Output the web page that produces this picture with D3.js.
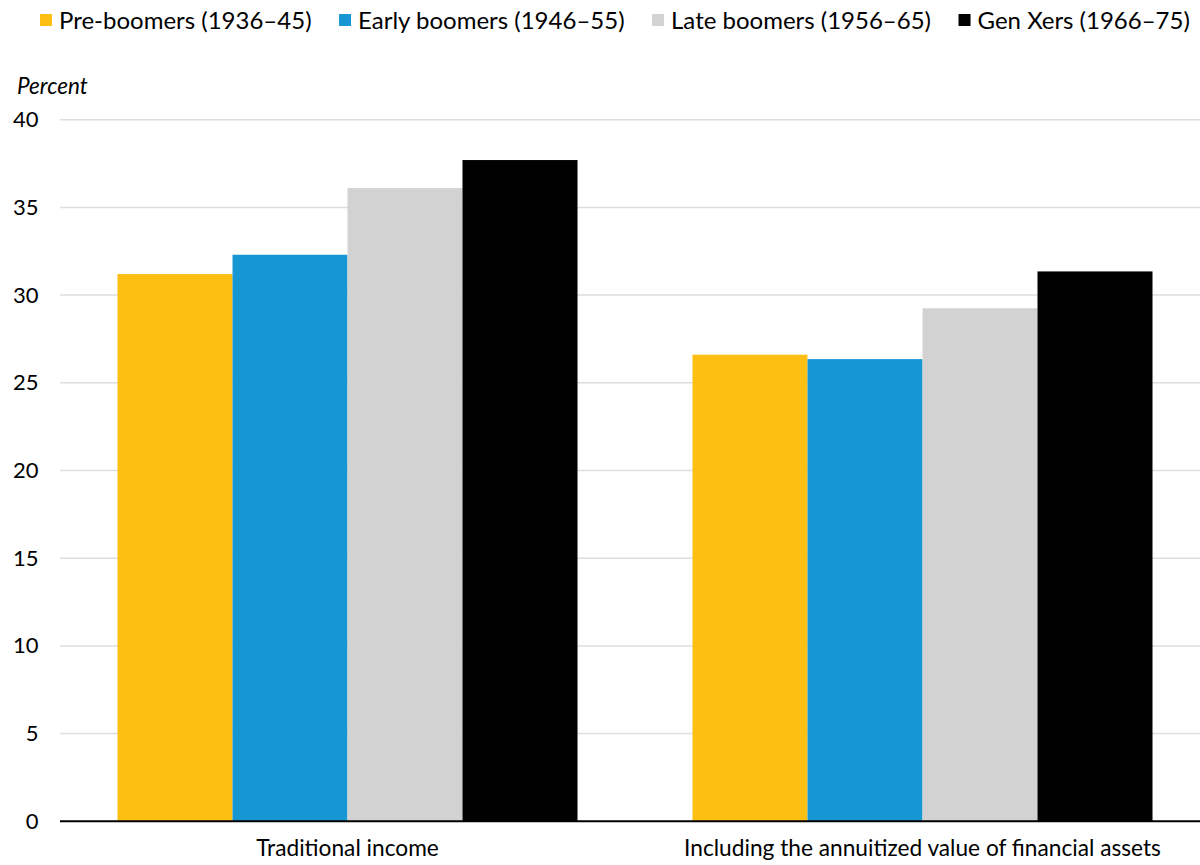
<!DOCTYPE html>
<html>
<head>
<meta charset="utf-8">
<script src="https://cdn.jsdelivr.net/npm/d3@7"></script>
<style>
  html, body { margin: 0; padding: 0; background: #fff; }
  svg { display: block; font-family: Lato, "Open Sans", sans-serif; }
</style>
</head>
<body>
<svg id="chart" width="1200" height="865"></svg>
<script>
// Categories and series
const categories = ["Traditional income", "Including the annuitized value of financial assets"];
const seriesNames = ["Pre-boomers (1936–45)", "Early boomers (1946–55)", "Late boomers (1956–65)", "Gen Xers (1966–75)"];
const preBoomers = [31.2, 26.6];
const earlyBoomers = [32.3, 26.35];
const lateBoomers = [36.1, 29.25];
const genXers = [37.7, 31.35];
const yTicks = [0, 5, 10, 15, 20, 25, 30, 35, 40];
const seriesColors = ["#fdbf11", "#1696d2", "#d2d2d2", "#000000"];

const seriesValues = [preBoomers, earlyBoomers, lateBoomers, genXers];

const svg = d3.select("#chart");
const plotLeft = 60, plotRight = 1210, plotTop = 119.7, plotBottom = 821.3;

const x0 = d3.scaleBand().domain(categories).range([plotLeft, plotRight]).paddingInner(0.2).paddingOuter(0.1);
const x1 = d3.scaleBand().domain(d3.range(seriesNames.length)).range([0, x0.bandwidth()]).padding(0);
const y = d3.scaleLinear().domain([0, 40]).range([plotBottom, plotTop]);

// Horizontal gridlines
svg.append("g")
  .selectAll("line")
  .data(yTicks.filter(d => d > 0))
  .join("line")
  .attr("x1", plotLeft).attr("x2", 1200)
  .attr("y1", d => y(d)).attr("y2", d => y(d))
  .attr("stroke", "#dedede").attr("stroke-width", 1.5);

// Y axis labels
const yAxis = d3.axisLeft(y).tickValues(yTicks).tickSize(0).tickPadding(0);
const yg = svg.append("g").attr("transform", "translate(38.5,0)").call(yAxis);
yg.select(".domain").remove();
yg.selectAll("text").attr("font-size", 22).attr("fill", "#000").attr("font-family", "Lato, sans-serif");

svg.append("text")
  .attr("x", 17).attr("y", 94)
  .attr("font-size", 22.5).attr("font-style", "italic")
  .text("Percent");

// Bars
const groups = svg.append("g")
  .selectAll("g")
  .data(categories)
  .join("g")
  .attr("transform", d => `translate(${x0(d)},0)`);

groups.selectAll("rect")
  .data((d, ci) => seriesValues.map((vals, si) => ({ si, v: vals[ci] })))
  .join("rect")
  .attr("x", d => x1(d.si))
  .attr("width", x1.bandwidth())
  .attr("y", d => y(d.v))
  .attr("height", d => y(0) - y(d.v))
  .attr("fill", d => seriesColors[d.si]);

// Baseline
svg.append("line")
  .attr("x1", plotLeft).attr("x2", 1200)
  .attr("y1", y(0)).attr("y2", y(0))
  .attr("stroke", "#000").attr("stroke-width", 2);

// Category labels
const xAxis = d3.axisBottom(x0).tickSize(0).tickPadding(0);
const xg = svg.append("g").attr("transform", `translate(0,${y(0) + 19})`).call(xAxis);
xg.select(".domain").remove();
xg.selectAll("text").attr("font-size", 22.7).attr("fill", "#000").attr("font-family", "Lato, sans-serif");

// Legend: swatch, label, then spacing to the next item
const legend = svg.append("g");
let lx = 40;
seriesNames.forEach((name, i) => {
  legend.append("rect")
    .attr("x", lx).attr("y", 14).attr("width", 12).attr("height", 12)
    .attr("fill", seriesColors[i]);
  const t = legend.append("text")
    .attr("x", lx + 19).attr("y", 29)
    .attr("font-size", 24)
    .text(name);
  lx += 19 + t.node().getComputedTextLength() + 27.5;
});
</script>
</body>
</html>
